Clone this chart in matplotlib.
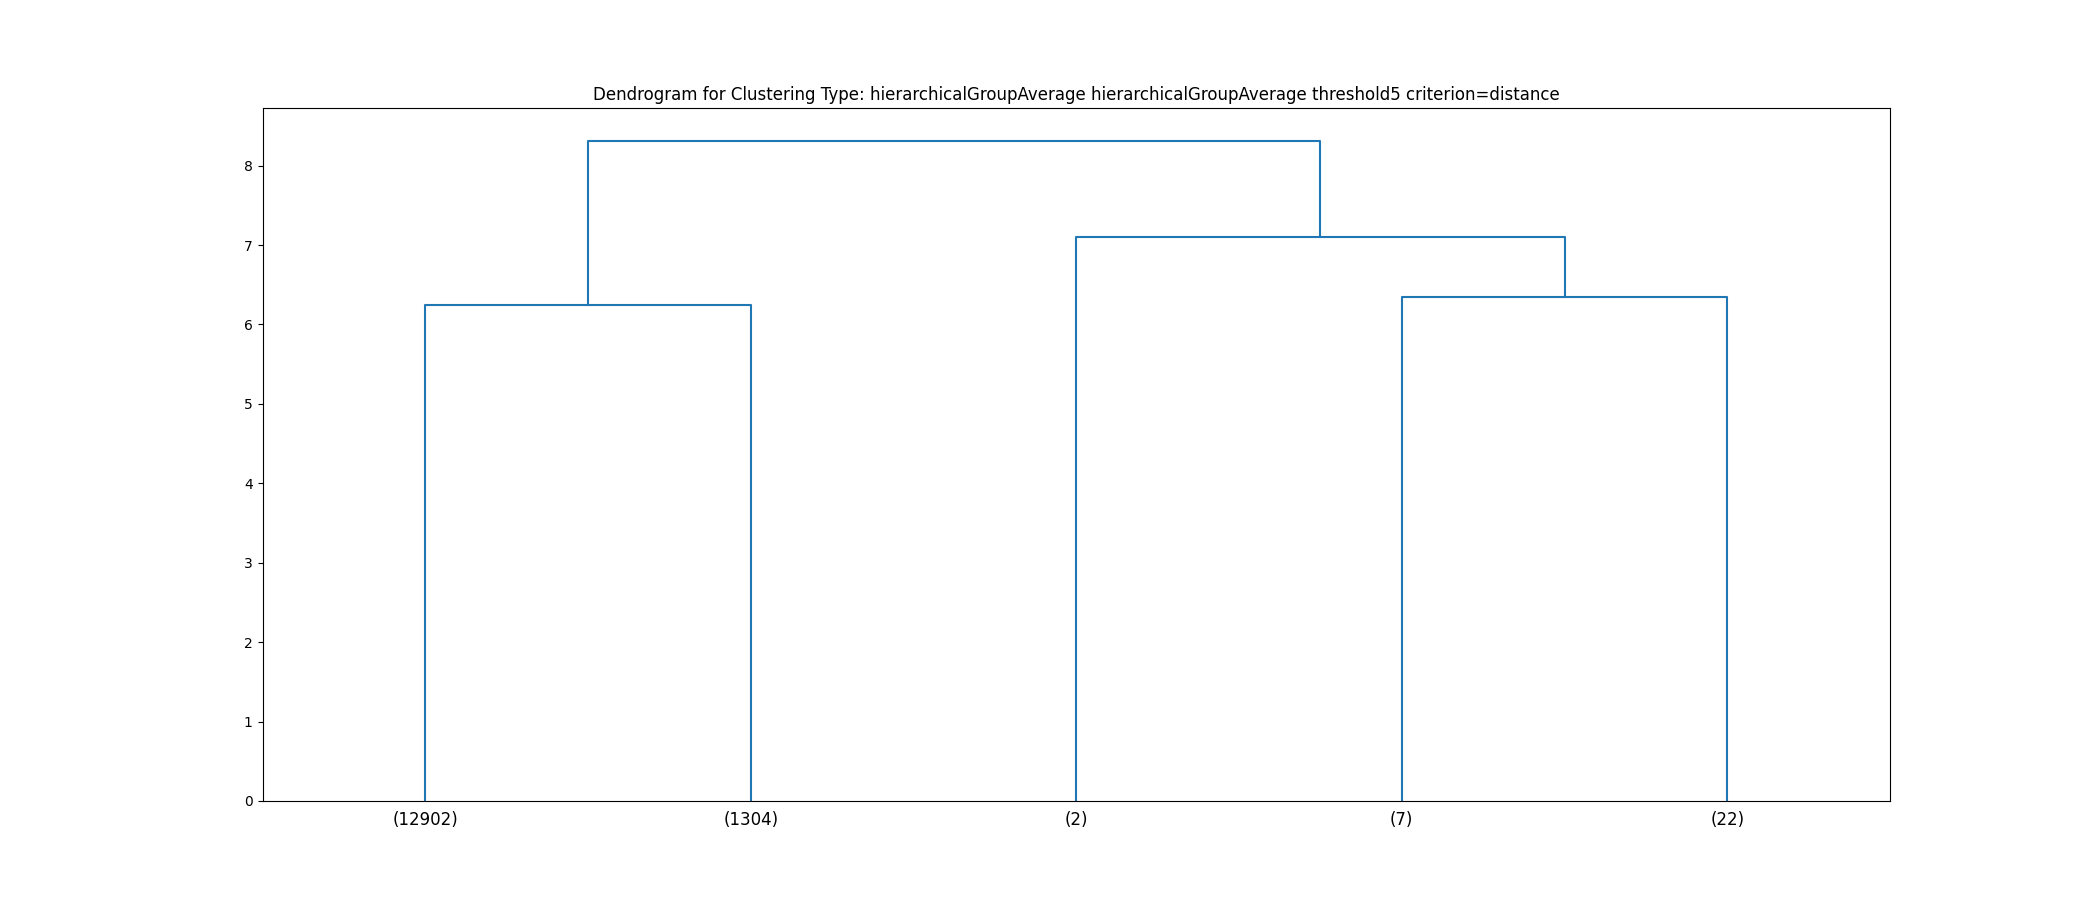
import matplotlib
matplotlib.use("Agg")
import matplotlib.pyplot as plt

leaf_labels = ["(12902)", "(1304)", "(2)", "(7)", "(22)"]
# merges: (left_child, right_child, height); children <5 are leaves, else merge index+5
merge_left = [0, 3, 2, 5]
merge_right = [1, 4, 6, 7]
merge_height = [6.24, 6.34, 7.10, 8.31]

title = "Dendrogram for Clustering Type: hierarchicalGroupAverage hierarchicalGroupAverage threshold5 criterion=distance"

fig, ax = plt.subplots(figsize=(21, 9), dpi=100)

leaf_x = [5 + 10 * i for i in range(len(leaf_labels))]
node_x = {i: leaf_x[i] for i in range(len(leaf_labels))}
node_h = {i: 0.0 for i in range(len(leaf_labels))}
n = len(leaf_labels)
for k, (a, b, h) in enumerate(zip(merge_left, merge_right, merge_height)):
    xa, xb = node_x[a], node_x[b]
    ha, hb = node_h[a], node_h[b]
    ax.plot([xa, xa, xb, xb], [ha, h, h, hb], color="#1f77b4", linewidth=1.5)
    node_x[n + k] = (xa + xb) / 2
    node_h[n + k] = h

ax.set_xlim(0, 10 * n)
ax.set_ylim(0, max(merge_height) * 1.05)
ax.set_xticks(leaf_x)
ax.set_xticklabels(leaf_labels, fontsize=12)
for line in ax.get_xticklines():
    line.set_visible(False)
ax.set_title(title, fontsize=12)

fig.savefig("out.png", dpi=100)
